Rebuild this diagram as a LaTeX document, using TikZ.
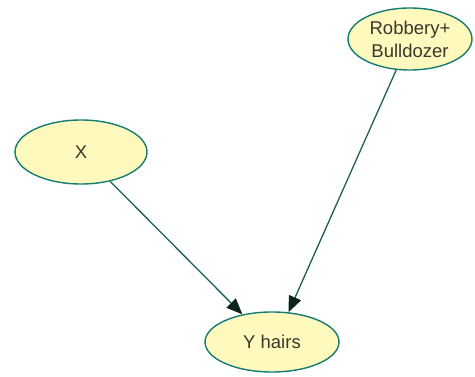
\documentclass[tikz,border=0pt]{standalone}
\usepackage{fontspec}
\setmainfont{Liberation Sans}
\usetikzlibrary{shapes.geometric,arrows.meta}
\definecolor{nodefill}{RGB}{255,249,190}
\definecolor{nodeline}{RGB}{20,125,115}
\definecolor{edgeline}{RGB}{30,95,88}
\definecolor{tipfill}{RGB}{10,35,30}
\definecolor{labeltext}{RGB}{60,55,45}
\begin{document}
\begin{tikzpicture}[x=1pt,y=-1pt,
  var/.style={ellipse, draw=nodeline, fill=nodefill, line width=1.4pt,
    inner sep=0pt, text=labeltext, align=center,
    font=\fontsize{18.5}{23}\selectfont},
  link/.style={draw=edgeline, line width=1.3pt,
    -{Triangle[length=16pt,width=13pt,color=tipfill,fill=tipfill]}}]
  \useasboundingbox (0,0) rectangle (475,377);
  \node[var, minimum width=132pt, minimum height=64pt] (x) at (81,152) {X};
  \node[var, minimum width=124pt, minimum height=62pt] (rb) at (410,39) {Robbery+\\Bulldozer};
  \node[var, minimum width=134pt, minimum height=60pt] (y) at (272,342) {Y hairs};
  \draw[link] (x) -- (y.137);
  \draw[link] (rb) -- (y.61);
\end{tikzpicture}
\end{document}
